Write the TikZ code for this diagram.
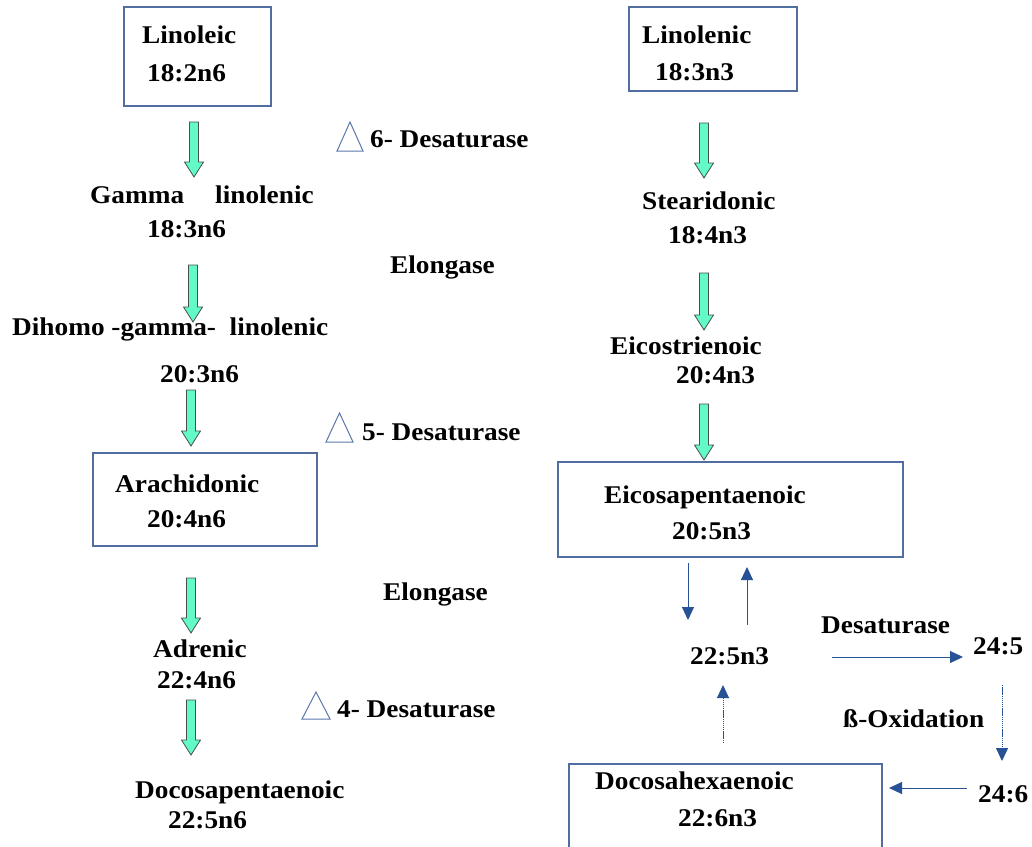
\documentclass[tikz,border=0pt]{standalone}
\usepackage{fontspec}
\setmainfont{Liberation Serif}[FakeStretch=1.07]
\usetikzlibrary{arrows.meta}
\definecolor{boxc}{RGB}{80,110,160}
\definecolor{greenf}{RGB}{100,250,200}
\definecolor{greend}{RGB}{70,80,80}
\definecolor{arrc}{RGB}{40,82,150}
\definecolor{tric}{RGB}{90,120,170}
\tikzset{
 lbl/.style={anchor=base west, inner sep=0pt, font=\fontsize{25.5}{30}\selectfont\bfseries},
 box/.style={draw=boxc, line width=1.3pt, inner sep=0pt},
 fat/.style={draw=greend, fill=greenf, line width=0.8pt, line join=miter},
 tri/.style={draw=tric, line width=1pt, line join=miter},
 thinarr/.style={draw=arrc, line width=1pt, -{Triangle[length=13pt,width=12pt]}},
 thindot/.style={thinarr, dash pattern=on 1.4pt off 0.7pt},
}
\newcommand\fatarrow[3]{\draw[fat] (#1-4.5,#2) -- (#1+4.5,#2) -- (#1+4.5,#3-15) -- (#1+9.5,#3-15) -- (#1,#3) -- (#1-9.5,#3-15) -- (#1-4.5,#3-15) -- cycle;}
\begin{document}
\begin{tikzpicture}[x=1pt,y=-1pt]
\useasboundingbox (0,0) rectangle (1032,846);
\begin{scope}
\clip (0,0) rectangle (1032,846);
% boxes
\node[box, minimum width=147, minimum height=99] (bLin) at (197.5,56.5) {};
\node[box, minimum width=168, minimum height=84] (bLnn) at (713,49) {};
\node[box, minimum width=224, minimum height=93] (bAra) at (205,499.5) {};
\node[box, minimum width=345, minimum height=95] (bEpa) at (730.5,509.5) {};
\node[box, minimum width=313, minimum height=100] (bDha) at (725.5,814) {};
\end{scope}
% left column texts
\node[lbl] (tLin) at (142,43) {Linoleic};
\node[lbl] (nLin) at (147,81) {18:2n6};
\node[lbl] (tD6) at (370,147) {6- Desaturase};
\node[lbl] (tGla) at (90,203) {Gamma\hspace{31pt}linolenic};
\node[lbl] (nGla) at (147,237) {18:3n6};
\node[lbl] (tEl1) at (390,273) {Elongase};
\node[lbl] (tDgl) at (12,335) {Dihomo -gamma-\ \ linolenic};
\node[lbl] (nDgl) at (160,382) {20:3n6};
\node[lbl] (tD5) at (362,440) {5- Desaturase};
\node[lbl] (tAra) at (115,492) {Arachidonic};
\node[lbl] (nAra) at (147,527) {20:4n6};
\node[lbl] (tEl2) at (383,600) {Elongase};
\node[lbl] (tAdr) at (153,657) {Adrenic};
\node[lbl] (nAdr) at (157,688) {22:4n6};
\node[lbl] (tD4) at (337,717) {4- Desaturase};
\node[lbl] (tDpa) at (135,798) {Docosapentaenoic};
\node[lbl] (nDpa) at (168,828) {22:5n6};
% right column texts
\node[lbl] (tLnn) at (642,43) {Linolenic};
\node[lbl] (nLnn) at (655,80) {18:3n3};
\node[lbl] (tSda) at (642,209) {Stearidonic};
\node[lbl] (nSda) at (668,243) {18:4n3};
\node[lbl] (tEtr) at (610,354) {Eicostrienoic};
\node[lbl] (nEtr) at (676,383) {20:4n3};
\node[lbl] (tEpa) at (604,503) {Eicosapentaenoic};
\node[lbl] (nEpa) at (672,539) {20:5n3};
\node[lbl] (n225) at (690,664) {22:5n3};
\node[lbl] (tDes) at (821,633) {Desaturase};
\node[lbl] (n245) at (973,654) {24:5};
\node[lbl] (tBox) at (843,727) {ß-Oxidation};
\node[lbl] (n246) at (978,802) {24:6};
\node[lbl] (tDha) at (595,789) {Docosahexaenoic};
\node[lbl] (nDha) at (678,826) {22:6n3};
% green arrows
\fatarrow{194}{122}{177}
\fatarrow{193}{265}{322}
\fatarrow{191}{390}{446}
\fatarrow{191}{578}{633}
\fatarrow{191}{700}{755}
\fatarrow{704}{123}{178}
\fatarrow{704}{273}{330}
\fatarrow{704}{404}{460}
% delta triangles
\draw[tri] (337,151) -- (350,122) -- (363,151) -- cycle;
\draw[tri] (326,442) -- (339.5,413) -- (353,442) -- cycle;
\draw[tri] (302,719) -- (316,692) -- (330,719) -- cycle;
% blue arrows
\coordinate (a1s) at (688,563); \coordinate (a1e) at (688,620);
\coordinate (a2s) at (747,625); \coordinate (a2e) at (747,567);
\coordinate (a3s) at (832,657); \coordinate (a3e) at (963,657);
\coordinate (a4s) at (1002,685); \coordinate (a4e) at (1002,761);
\coordinate (a5s) at (967,788); \coordinate (a5e) at (889,788);
\coordinate (a6s) at (723,743); \coordinate (a6e) at (723,685);
\draw[thinarr] (a1s) -- (a1e);
\draw[thinarr] (a2s) -- (a2e);
\draw[thinarr] (a3s) -- (a3e);
\draw[thindot] (a4s) -- (a4e);
\draw[thinarr] (a5s) -- (a5e);
\draw[thindot] (a6s) -- (a6e);
\end{tikzpicture}
\end{document}
